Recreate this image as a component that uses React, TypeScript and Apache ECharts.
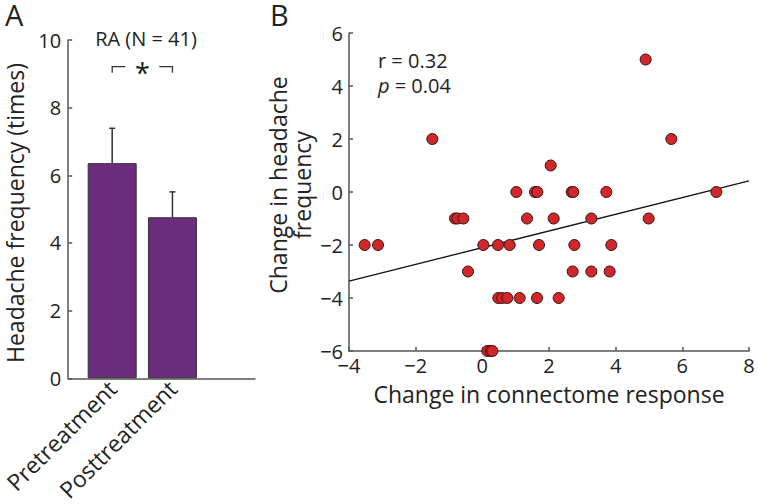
import React, { useEffect, useRef } from "react";
import * as echarts from "echarts";

// Panel A data
const barCategories = ["Pretreatment", "Posttreatment"];
const barPositions = [1, 2];
const barMeans = [6.36, 4.76];
const barErrorTops = [7.39, 5.51];
const barYTicks = [0, 2, 4, 6, 8, 10];

// Panel B data
const scatterX = [
  4.9, -1.5, 5.67, 2.05,
  1.02, 1.58, 1.65, 2.68, 2.73, 3.72, 7.02,
  -0.82, -0.74, -0.57, 1.34, 2.14, 3.27, 4.99,
  -3.53, -3.13, 0.03, 0.47, 0.82, 1.7, 2.76, 3.87,
  -0.43, 2.71, 3.27, 3.82,
  0.48, 0.6, 0.75, 1.12, 1.64, 2.29,
  0.15, 0.25, 0.3,
];
const scatterY = [
  5, 2, 2, 1,
  0, 0, 0, 0, 0, 0, 0,
  -1, -1, -1, -1, -1, -1, -1,
  -2, -2, -2, -2, -2, -2, -2, -2,
  -3, -3, -3, -3,
  -4, -4, -4, -4, -4, -4,
  -6, -6, -6,
];
const fitLineX = [-4, 8];
const fitLineY = [-3.36, 0.42];
const statsR = "r = 0.32";
const statsP = "0.04";

const FONT = "Open Sans";
const TXT = "#222";
const AX = "#555";

export default function App() {
  const ref = useRef<HTMLDivElement>(null);
  useEffect(() => {
    document.body.style.margin = "0";
    const chart = echarts.init(ref.current!, null, { renderer: "svg" });
    const axisCommon = {
      axisLine: { show: true, lineStyle: { color: AX, width: 1.5 } },
      axisTick: { show: true, inside: true, length: 4, lineStyle: { color: AX, width: 1.5 } },
      splitLine: { show: false },
      axisLabel: { color: TXT, fontFamily: FONT, fontSize: 20, lineHeight: 16 },
    };
    const option: any = {
      animation: false,
      textStyle: { fontFamily: FONT },
      grid: [
        { left: 66, top: 40, width: 189, height: 339 },
        { left: 349, top: 33, width: 400, height: 318 },
      ],
      xAxis: [
        {
          gridIndex: 0,
          type: "value",
          min: 0.27,
          max: 3.37,
          axisLine: { show: true, onZero: false, lineStyle: { color: AX, width: 1.5 } },
          axisTick: { show: false },
          splitLine: { show: false },
          axisLabel: {
            customValues: barPositions,
            rotate: 45,
            margin: 6,
            color: TXT,
            fontFamily: FONT,
            fontSize: 23,
            formatter: (v: number) => barCategories[barPositions.indexOf(v)] ?? "",
          },
        },
        {
          gridIndex: 1,
          type: "value",
          min: -4,
          max: 8,
          interval: 2,
          ...axisCommon,
          axisLine: { show: true, onZero: false, lineStyle: { color: AX, width: 1.5 } },
          axisLabel: { ...axisCommon.axisLabel, margin: 6, formatter: (v: number) => String(v).replace("-", "−") },
          name: "Change in connectome response",
          nameLocation: "middle",
          nameGap: 33,
          nameTextStyle: { color: TXT, fontFamily: FONT, fontSize: 23, lineHeight: 20 },
        },
      ],
      yAxis: [
        {
          gridIndex: 0,
          type: "value",
          min: barYTicks[0],
          max: barYTicks[barYTicks.length - 1],
          interval: 2,
          ...axisCommon,
          axisLabel: { ...axisCommon.axisLabel, margin: 7 },
        },
        {
          gridIndex: 1,
          type: "value",
          min: -6,
          max: 6,
          interval: 2,
          ...axisCommon,
          axisLine: { show: true, onZero: false, lineStyle: { color: AX, width: 1.5 } },
          axisLabel: { ...axisCommon.axisLabel, margin: 6, formatter: (v: number) => String(v).replace("-", "−") },
        },
      ],
      series: [
        {
          type: "bar",
          xAxisIndex: 0,
          yAxisIndex: 0,
          barWidth: 49,
          data: barPositions.map((p, i) => [p, barMeans[i]]),
          itemStyle: { color: "#6B2C7E", borderColor: "#333", borderWidth: 1 },
          z: 2,
        },
        {
          type: "custom",
          xAxisIndex: 0,
          yAxisIndex: 0,
          data: barPositions.map((p, i) => [p, barMeans[i], barErrorTops[i]]),
          z: 1,
          renderItem: (params: any, api: any) => {
            const base = api.coord([api.value(0), api.value(1)]);
            const top = api.coord([api.value(0), api.value(2)]);
            const st = { stroke: "#333", lineWidth: 1.5 };
            return {
              type: "group",
              children: [
                { type: "line", shape: { x1: base[0], y1: base[1], x2: top[0], y2: top[1] }, style: st },
                { type: "line", shape: { x1: top[0] - 3, y1: top[1], x2: top[0] + 3, y2: top[1] }, style: st },
              ],
            };
          },
        },
        {
          type: "line",
          xAxisIndex: 1,
          yAxisIndex: 1,
          data: fitLineX.map((x, i) => [x, fitLineY[i]]),
          symbol: "none",
          lineStyle: { color: "#111", width: 1.3 },
          z: 1,
        },
        {
          type: "scatter",
          xAxisIndex: 1,
          yAxisIndex: 1,
          symbolSize: 11,
          data: scatterX.map((x, i) => [x, scatterY[i]]),
          itemStyle: { color: "#D0282A", borderColor: "#3a1010", borderWidth: 1, opacity: 1 },
          clip: false,
          z: 3,
        },
      ],
    };
    chart.setOption(option);

    const pL = chart.convertToPixel({ gridIndex: 0 }, [barPositions[0], 9.03]) as number[];
    const pLt = chart.convertToPixel({ gridIndex: 0 }, [barPositions[0], 9.21]) as number[];
    const pR = chart.convertToPixel({ gridIndex: 0 }, [barPositions[1], 9.03]) as number[];
    const midX = (pL[0] + pR[0]) / 2;
    const yTop = pLt[1];
    const lineStyle = { stroke: "#333", lineWidth: 1.3, fill: null };

    chart.setOption({
      graphic: [
        { type: "text", left: 5, top: 0, style: { text: "A", fontFamily: FONT, fontSize: 29, lineHeight: 29, fill: TXT } },
        { type: "text", left: 270, top: 0, style: { text: "B", fontFamily: FONT, fontSize: 29, lineHeight: 29, fill: TXT } },
        {
          type: "text",
          x: 146,
          y: 38,
          style: { text: "RA (N = 41)", fontFamily: FONT, fontSize: 20, fill: TXT, align: "center", verticalAlign: "middle" },
        },
        {
          type: "polyline",
          shape: { points: [[pL[0], pL[1]], [pL[0], yTop], [midX - 17, yTop]] },
          style: lineStyle,
        },
        {
          type: "polyline",
          shape: { points: [[midX + 17, yTop], [pR[0], yTop], [pR[0], pR[1]]] },
          style: lineStyle,
        },
        {
          type: "text",
          x: midX,
          y: 59,
          style: { text: "*", fontFamily: FONT, fontSize: 27, fill: TXT, align: "center", verticalAlign: "top" },
        },
        {
          type: "text",
          x: 15,
          y: 213,
          rotation: Math.PI / 2,
          style: { text: "Headache frequency (times)", fontFamily: FONT, fontSize: 23, fill: TXT, align: "center", verticalAlign: "middle" },
        },
        {
          type: "text",
          x: 290,
          y: 185,
          rotation: Math.PI / 2,
          style: {
            text: "Change in headache\nfrequency",
            fontFamily: FONT,
            fontSize: 23,
            lineHeight: 24,
            fill: TXT,
            align: "center",
            verticalAlign: "middle",
          },
        },
        {
          type: "text",
          x: 378,
          y: 48,
          style: {
            text: "{n|" + statsR + "}\n{i|p}{n| = " + statsP + "}",
            fontFamily: FONT,
            fontSize: 20,
            lineHeight: 25,
            fill: TXT,
            rich: {
              n: { fontFamily: FONT, fontSize: 20, lineHeight: 25, fill: TXT },
              i: { fontFamily: FONT, fontSize: 20, lineHeight: 25, fontStyle: "italic", fill: TXT },
            },
          },
        },
      ],
    });
    return () => chart.dispose();
  }, []);
  return <div ref={ref} style={{ width: 758, height: 504 }} />;
}
